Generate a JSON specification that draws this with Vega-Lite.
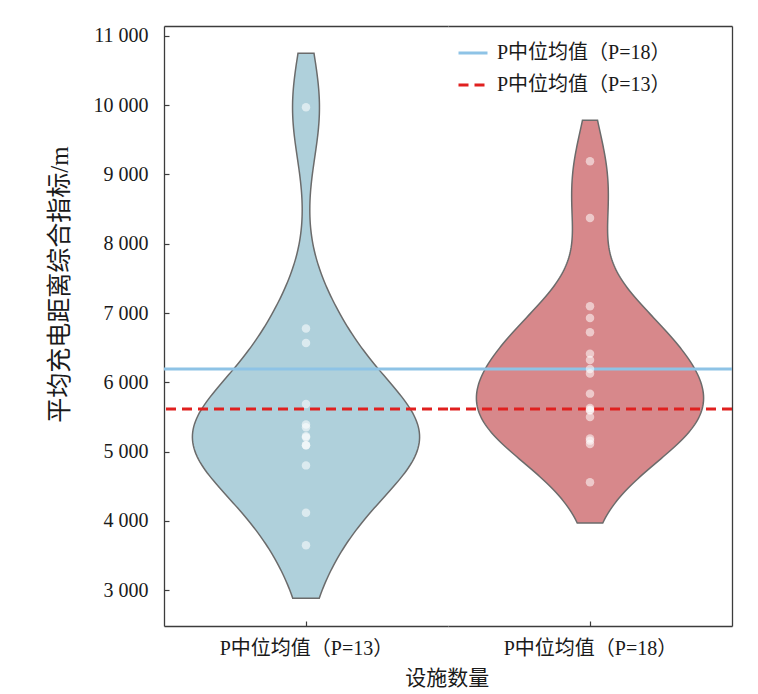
{
  "$schema": "https://vega.github.io/schema/vega-lite/v6.json",
  "background": "white",
  "padding": {"left": 47, "top": 25, "right": 10, "bottom": 5},
  "bounds": "flush",
  "datasets": {
    "points": [
      {"group": "P中位均值（P=13）", "value": 9967},
      {"group": "P中位均值（P=13）", "value": 6775},
      {"group": "P中位均值（P=13）", "value": 6567},
      {"group": "P中位均值（P=13）", "value": 5687},
      {"group": "P中位均值（P=13）", "value": 5390},
      {"group": "P中位均值（P=13）", "value": 5351},
      {"group": "P中位均值（P=13）", "value": 5221},
      {"group": "P中位均值（P=13）", "value": 5206},
      {"group": "P中位均值（P=13）", "value": 5091},
      {"group": "P中位均值（P=13）", "value": 5091},
      {"group": "P中位均值（P=13）", "value": 4802},
      {"group": "P中位均值（P=13）", "value": 4120},
      {"group": "P中位均值（P=13）", "value": 3651},
      {"group": "P中位均值（P=18）", "value": 9188},
      {"group": "P中位均值（P=18）", "value": 8369},
      {"group": "P中位均值（P=18）", "value": 7097},
      {"group": "P中位均值（P=18）", "value": 6928},
      {"group": "P中位均值（P=18）", "value": 6721},
      {"group": "P中位均值（P=18）", "value": 6414},
      {"group": "P中位均值（P=18）", "value": 6322},
      {"group": "P中位均值（P=18）", "value": 6192},
      {"group": "P中位均值（P=18）", "value": 6126},
      {"group": "P中位均值（P=18）", "value": 5837},
      {"group": "P中位均值（P=18）", "value": 5629},
      {"group": "P中位均值（P=18）", "value": 5606},
      {"group": "P中位均值（P=18）", "value": 5592},
      {"group": "P中位均值（P=18）", "value": 5499},
      {"group": "P中位均值（P=18）", "value": 5188},
      {"group": "P中位均值（P=18）", "value": 5159},
      {"group": "P中位均值（P=18）", "value": 5110},
      {"group": "P中位均值（P=18）", "value": 4557}
    ],
    "means": [
      {"series": "P中位均值（P=18）", "value": 6192},
      {"series": "P中位均值（P=13）", "value": 5615}
    ]
  },
  "config": {
    "font": "Liberation Serif, Noto Sans CJK SC",
    "view": {"stroke": null},
    "axis": {
      "labelFont": "Liberation Serif, Noto Sans CJK SC",
      "titleFont": "Liberation Serif, Noto Sans CJK SC",
      "labelFontSize": 20,
      "titleFontSize": 25,
      "titleFontWeight": "normal",
      "labelColor": "#1a1a1a",
      "titleColor": "#1a1a1a",
      "domainColor": "#3c3c3c",
      "tickColor": "#3c3c3c",
      "domainWidth": 1.3,
      "tickWidth": 1.2,
      "labelLimit": 0,
      "grid": false
    },
    "legend": {
      "labelFont": "Liberation Serif, Noto Sans CJK SC",
      "labelFontSize": 20,
      "labelColor": "#1a1a1a",
      "labelLimit": 0
    }
  },
  "title": {
    "text": "设施数量",
    "orient": "bottom",
    "anchor": "middle",
    "fontSize": 21,
    "fontWeight": "normal",
    "color": "#1a1a1a",
    "font": "Liberation Serif, Noto Sans CJK SC",
    "offset": 10,
    "dx": 57
  },
  "spacing": 0,
  "resolve": {
    "scale": {"x": "independent", "color": "independent", "strokeDash": "independent"},
    "legend": {"color": "independent", "strokeDash": "independent"}
  },
  "hconcat": [
    {
      "width": 284,
      "height": 600,
      "encoding": {
        "y": {
          "field": "value",
          "type": "quantitative",
          "scale": {"domain": [2485, 11140], "nice": false, "zero": false},
          "axis": {
            "title": "平均充电距离综合指标/m",
            "values": [3000, 4000, 5000, 6000, 7000, 8000, 9000, 10000, 11000],
            "labelExpr": "replace(format(datum.value, ','), ',', ' ')",
            "tickSize": -5,
            "labelPadding": 21,
            "titlePadding": 21,
            "titleY": 258
          }
        }
      },
      "layer": [
        {
          "data": {"name": "points"},
          "transform": [
            {"filter": "datum.group === 'P中位均值（P=13）'"},
            {"density": "value", "bandwidth": 766, "extent": [2885, 10746], "steps": 200}
          ],
          "mark": {"type": "area", "orient": "horizontal", "fill": "#afd0db", "stroke": "#6b6b6b", "strokeWidth": 1.5},
          "encoding": {
            "x": {
              "field": "density",
              "type": "quantitative",
              "stack": "center",
              "impute": null,
              "scale": {"nice": false, "zero": false, "padding": 28.4},
              "axis": {"orient": "top", "labels": false, "ticks": false, "domain": true, "title": null, "grid": false}
            }
          }
        },
        {
          "data": {"name": "means"},
          "mark": {"type": "rule", "strokeWidth": 3},
          "encoding": {
            "color": {
              "field": "series",
              "type": "nominal",
              "scale": {"domain": ["P中位均值（P=18）", "P中位均值（P=13）"], "range": ["#8ec3e6", "#e0201f"]},
              "legend": null
            },
            "strokeDash": {
              "field": "series",
              "type": "nominal",
              "scale": {"domain": ["P中位均值（P=18）", "P中位均值（P=13）"], "range": [[1, 0], [10, 6]]},
              "legend": null
            }
          }
        },
        {
          "data": {"name": "points"},
          "transform": [{"filter": "datum.group === 'P中位均值（P=13）'"}],
          "mark": {"type": "circle", "size": 72, "color": "white", "opacity": 0.55},
          "encoding": {
            "x": {
              "field": "group",
              "type": "nominal",
              "axis": {"orient": "bottom", "title": null, "labelAngle": 0, "tickSize": -5, "labelPadding": 17, "domain": true}
            }
          }
        }
      ],
      "resolve": {"scale": {"x": "independent"}, "axis": {"x": "independent"}}
    },
    {
      "width": 284,
      "height": 600,
      "encoding": {
        "y": {
          "field": "value",
          "type": "quantitative",
          "scale": {"domain": [2485, 11140], "nice": false, "zero": false},
          "axis": {"orient": "right", "title": null, "labels": false, "ticks": false, "domain": true}
        }
      },
      "layer": [
        {
          "data": {"name": "points"},
          "transform": [
            {"filter": "datum.group === 'P中位均值（P=18）'"},
            {"density": "value", "bandwidth": 588, "extent": [3971, 9779], "steps": 200}
          ],
          "mark": {"type": "area", "orient": "horizontal", "fill": "#d7888b", "stroke": "#6b6b6b", "strokeWidth": 1.5},
          "encoding": {
            "x": {
              "field": "density",
              "type": "quantitative",
              "stack": "center",
              "impute": null,
              "scale": {"nice": false, "zero": false, "padding": 28.4},
              "axis": {"orient": "top", "labels": false, "ticks": false, "domain": true, "title": null, "grid": false}
            }
          }
        },
        {
          "data": {"name": "means"},
          "mark": {"type": "rule", "strokeWidth": 3},
          "encoding": {
            "color": {
              "field": "series",
              "type": "nominal",
              "scale": {"domain": ["P中位均值（P=18）", "P中位均值（P=13）"], "range": ["#8ec3e6", "#e0201f"]},
              "legend": {"orient": "none", "legendX": 9, "legendY": 11, "title": null, "symbolType": "stroke", "symbolSize": 841, "symbolStrokeWidth": 3, "labelOffset": 8, "rowPadding": 6, "labelLimit": 0}
            },
            "strokeDash": {
              "field": "series",
              "type": "nominal",
              "scale": {"domain": ["P中位均值（P=18）", "P中位均值（P=13）"], "range": [[1, 0], [10, 6]]},
              "legend": {"orient": "none", "legendX": 9, "legendY": 11, "title": null, "symbolType": "stroke", "symbolSize": 841, "symbolStrokeWidth": 3, "labelOffset": 8, "rowPadding": 6, "labelLimit": 0}
            }
          }
        },
        {
          "data": {"name": "points"},
          "transform": [{"filter": "datum.group === 'P中位均值（P=18）'"}],
          "mark": {"type": "circle", "size": 72, "color": "white", "opacity": 0.55},
          "encoding": {
            "x": {
              "field": "group",
              "type": "nominal",
              "axis": {"orient": "bottom", "title": null, "labelAngle": 0, "tickSize": -5, "labelPadding": 17, "domain": true}
            }
          }
        }
      ],
      "resolve": {"scale": {"x": "independent"}, "axis": {"x": "independent"}}
    }
  ]
}
